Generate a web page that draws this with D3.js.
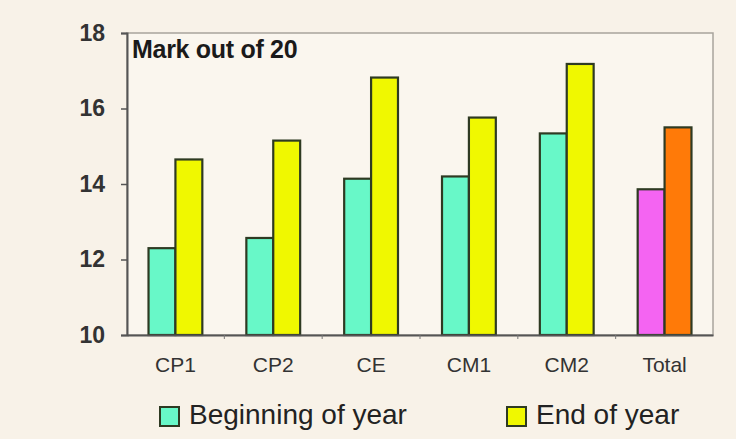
<!DOCTYPE html>
<html>
<head>
<meta charset="utf-8">
<script src="https://cdn.jsdelivr.net/npm/d3@7"></script>
<style>
  html, body { margin: 0; padding: 0; background: #f8f2e8; }
  svg { display: block; font-family: "Liberation Sans", Arial, sans-serif; }
</style>
</head>
<body>
<div id="container"></div>
<script>
const categories = ["CP1", "CP2", "CE", "CM1", "CM2", "Total"];
const beginning = [12.3, 12.57, 14.14, 14.2, 15.34, 13.86];
const endOfYear = [14.65, 15.15, 16.82, 15.76, 17.18, 15.5];
const yTicks = [10, 12, 14, 16, 18];
const seriesLabels = ["Beginning of year", "End of year"];

const W = 736, H = 439;
const margin = {top: 33, right: 23, bottom: 104, left: 127};
const width = W - margin.left - margin.right;
const height = H - margin.top - margin.bottom;

const svg = d3.select("#container").append("svg")
  .attr("width", W)
  .attr("height", H);

svg.append("rect").attr("width", W).attr("height", H).attr("fill", "#f8f2e8");

const g = svg.append("g").attr("transform", `translate(${margin.left},${margin.top})`);

const x = d3.scaleBand().domain(categories).range([0, width]).paddingInner(0.45).paddingOuter(0.22);
const y = d3.scaleLinear().domain([10, 18]).range([height, 0]);

// plot frame
g.append("rect")
  .attr("x", 0).attr("y", 0)
  .attr("width", width).attr("height", height)
  .attr("fill", "#faf6ee")
  .attr("stroke", "#a8a49c")
  .attr("stroke-width", 1.5);

const groupColors = (i, k) => {
  if (categories[i] === "Total") return k === 0 ? "#f464f2" : "#ff7a08";
  return k === 0 ? "#68f8c8" : "#f0f800";
};

const half = x.bandwidth() / 2;
categories.forEach((c, i) => {
  [beginning[i], endOfYear[i]].forEach((v, k) => {
    g.append("rect")
      .attr("x", x(c) + k * half)
      .attr("y", y(v))
      .attr("width", half)
      .attr("height", y(10) - y(v))
      .attr("fill", groupColors(i, k))
      .attr("stroke", "#2e3a22")
      .attr("stroke-width", 2.2);
  });
});

// axes
const yAxis = g.append("g")
  .call(d3.axisLeft(y).tickValues(yTicks).tickSize(6).tickPadding(16));
yAxis.select(".domain").attr("stroke", "#555").attr("stroke-width", 2);
yAxis.selectAll(".tick line").attr("stroke", "#555").attr("stroke-width", 1.5);
yAxis.selectAll("text")
  .attr("font-size", 23).attr("font-weight", "bold").attr("fill", "#333")
  .attr("font-family", "Liberation Sans, Arial, sans-serif");

const xAxis = g.append("g")
  .attr("transform", `translate(0,${height})`)
  .call(d3.axisBottom(x).tickSize(0).tickPadding(22));
xAxis.select(".domain").attr("stroke", "#555").attr("stroke-width", 2);
xAxis.selectAll("text")
  .attr("font-size", 21).attr("fill", "#333")
  .attr("font-family", "Liberation Sans, Arial, sans-serif");

// small separators between categories
const step = x.step();
d3.range(1, categories.length).forEach(j => {
  g.append("line")
    .attr("x1", x(categories[j]) - (step - x.bandwidth()) / 2)
    .attr("x2", x(categories[j]) - (step - x.bandwidth()) / 2)
    .attr("y1", height).attr("y2", height + 4)
    .attr("stroke", "#777").attr("stroke-width", 1);
});

g.append("text")
  .attr("x", 5).attr("y", 25)
  .attr("font-size", 25).attr("font-weight", "bold").attr("fill", "#1a1a1a")
  .attr("letter-spacing", -0.3)
  .text("Mark out of 20");

// legend
const legend = svg.append("g");
const legendX = [160, 507];
seriesLabels.forEach((label, k) => {
  legend.append("rect")
    .attr("x", legendX[k]).attr("y", 407)
    .attr("width", 19).attr("height", 19)
    .attr("fill", k === 0 ? "#68f8c8" : "#f0f800")
    .attr("stroke", "#2e3a22").attr("stroke-width", 2);
  legend.append("text")
    .attr("x", legendX[k] + 29).attr("y", 424)
    .attr("font-size", 28).attr("fill", "#222")
    .text(label);
});
</script>
</body>
</html>
